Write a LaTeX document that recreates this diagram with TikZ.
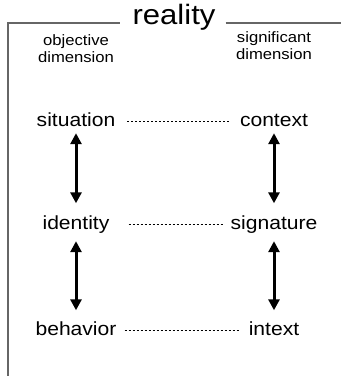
\documentclass[tikz,border=0pt]{standalone}
\usepackage{fontspec}
\setmainfont{Liberation Sans}
\newfontfamily\widefont[FakeStretch=1.11]{Liberation Sans}
\usetikzlibrary{arrows.meta}
\begin{document}
\begin{tikzpicture}[x=1pt,y=-1pt,
  word/.style={font=\widefont\fontsize{19}{19}\selectfont, inner sep=0pt, anchor=base, text height=13.5pt, text depth=4pt},
  small/.style={font=\widefont\fontsize{15}{16.5}\selectfont, inner sep=0pt, anchor=base, align=center},
  frameline/.style={draw=black!60, line width=1.3pt},
  dashline/.style={draw=black, line width=0.7pt, dash pattern=on 2pt off 2pt},
  dblarrow/.style={line width=3pt, {Triangle[width=11pt,length=11pt]}-{Triangle[width=11pt,length=11pt]}}
]
\useasboundingbox (0,0) rectangle (341,376);
\node[font=\widefont\fontsize{28}{28}\selectfont, inner sep=0pt, anchor=base] (reality) at (174,24) {reality};
\coordinate (fl) at (8,23);
\coordinate (fb) at (8,376);
\coordinate (fr) at (341,23);
\draw[frameline] (fb) -- (fl) -- ([xshift=-12pt]reality.west |- fl);
\draw[frameline] ([xshift=10pt]reality.east |- fr) -- (fr);
\node[small] (obj) at (76,62) {objective\\dimension};
\node[small] (sig) at (274,59) {significant\\dimension};
\node[word] (situation) at (76,126) {situation};
\node[word] (context) at (274,126) {context};
\node[word] (identity) at (76,229) {identity};
\node[word] (signature) at (274,229) {signature};
\node[word] (behavior) at (76,335) {behavior};
\node[word] (intext) at (274,335) {intext};
\draw[dashline] ([xshift=12pt,yshift=5pt]situation.base east) -- ([xshift=-11pt,yshift=5pt]context.base west);
\draw[dashline] ([xshift=19pt,yshift=5pt]identity.base east) -- ([xshift=-7pt,yshift=5pt]signature.base west);
\draw[dashline] ([xshift=8pt,yshift=5pt]behavior.base east) -- ([xshift=-8pt,yshift=5pt]intext.base west);
\draw[dblarrow, shorten <=3pt, shorten >=12pt] (situation.south) -- (identity.north);
\draw[dblarrow, shorten <=3pt, shorten >=12pt] (context.south) -- (signature.north);
\draw[dblarrow, shorten <=8pt, shorten >=11pt] (identity.south) -- (behavior.north);
\draw[dblarrow, shorten <=8pt, shorten >=11pt] (signature.south) -- (intext.north);
\end{tikzpicture}
\end{document}
